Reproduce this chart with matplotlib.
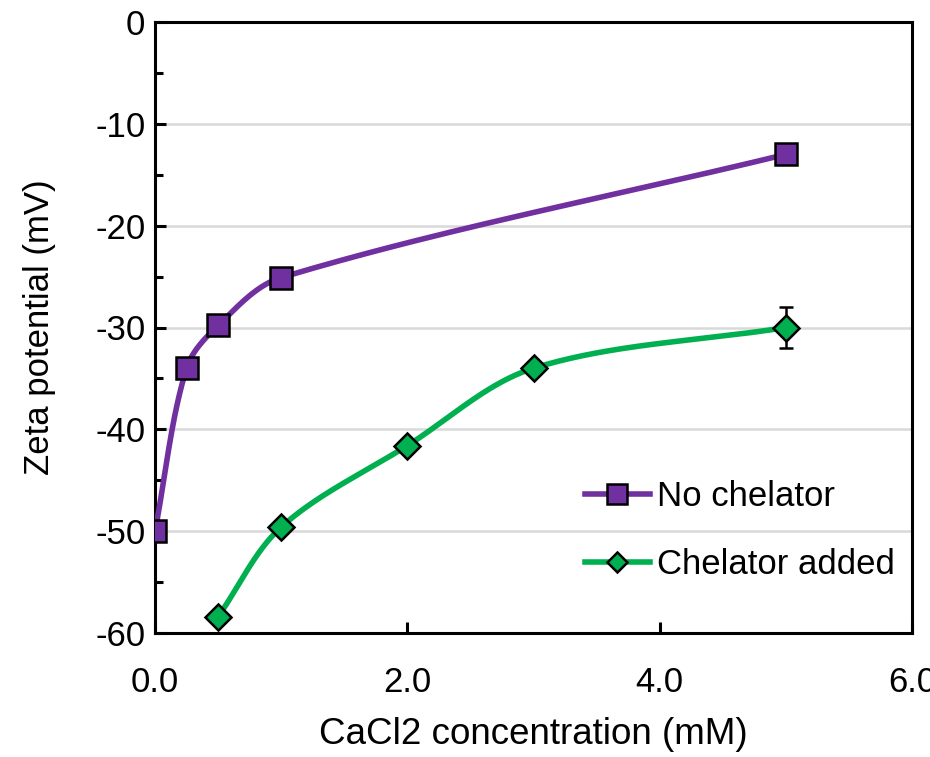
import numpy as np
import matplotlib
matplotlib.use("Agg")
import matplotlib.pyplot as plt
from matplotlib.ticker import MultipleLocator, FormatStrFormatter

plt.rcParams['font.family'] = ['Liberation Sans', 'DejaVu Sans']

# Data
x_no = [0.0, 0.25, 0.5, 1.0, 5.0]
y_no = [-50.0, -34.0, -29.8, -25.1, -13.0]
x_ch = [0.5, 1.0, 2.0, 3.0, 5.0]
y_ch = [-58.4, -49.6, -41.6, -34.0, -30.0]
err_ch = [0.0, 0.0, 0.0, 0.0, 2.0]

col_no = '#7030A0'
col_ch = '#00B050'

XMIN, XMAX, YMIN, YMAX = 0, 6, -60, 0
AX_W_PX, AX_H_PX = 757.0, 611.0


def smooth(xs, ys, n=60):
    """Excel-like smoothed line: cubic Bezier with chord-weighted tangents
    computed in display (pixel-like) space."""
    sx = AX_W_PX / (XMAX - XMIN)
    sy = AX_H_PX / (YMAX - YMIN)
    P = np.column_stack([np.asarray(xs, float) * sx, np.asarray(ys, float) * sy])
    m = len(P)
    d = np.hypot(*np.diff(P, axis=0).T)
    out = []
    for i in range(m - 1):
        p1, p2 = P[i], P[i + 1]
        if i > 0:
            T1 = P[i + 1] - P[i - 1]
            c1 = p1 + T1 * d[i] / (d[i - 1] + d[i]) / 3.0
        else:
            c1 = p1 + (p2 - p1) / 3.0
        if i + 2 < m:
            T2 = P[i + 2] - P[i]
            c2 = p2 - T2 * d[i] / (d[i] + d[i + 1]) / 3.0
        else:
            c2 = p2 - (p2 - p1) / 3.0
        t = np.linspace(0, 1, n)[:, None]
        seg = ((1 - t) ** 3) * p1 + 3 * ((1 - t) ** 2) * t * c1 + 3 * (1 - t) * t ** 2 * c2 + t ** 3 * p2
        out.append(seg if i == 0 else seg[1:])
    S = np.vstack(out)
    return S[:, 0] / sx, S[:, 1] / sy


fig = plt.figure(figsize=(9.3, 7.57), dpi=100)
ax = fig.add_axes([155 / 930, 1 - 633 / 757, (912 - 155) / 930, (633 - 22) / 757])

LW = 4.0
sx_, sy_ = smooth(x_no, y_no)
ax.plot(sx_, sy_, color=col_no, lw=LW, solid_capstyle='round', zorder=3)
ax.plot(x_no, y_no, ls='none', marker='s', ms=16, mfc=col_no, mec='black', mew=1.8, zorder=4)

sx_, sy_ = smooth(x_ch, y_ch)
ax.plot(sx_, sy_, color=col_ch, lw=LW, solid_capstyle='round', zorder=3)
ax.errorbar(x_ch, y_ch, yerr=err_ch, ls='none', ecolor='black', elinewidth=1.8, capsize=4.7,
            capthick=1.8, zorder=3.5)
ax.plot(x_ch, y_ch, ls='none', marker='D', ms=13, mfc=col_ch, mec='black', mew=1.8, zorder=4)

# legend proxies
h1, = ax.plot([], [], color=col_no, lw=LW, marker='s', ms=14, mfc=col_no, mec='black', mew=1.8)
h2, = ax.plot([], [], color=col_ch, lw=LW, marker='D', ms=10.5, mfc=col_ch, mec='black', mew=1.8)
ax.legend([h1, h2], ['No chelator', 'Chelator added'], loc='upper left',
          bbox_to_anchor=((585 - 155) / AX_W_PX, (633 - 480.5) / AX_H_PX),
          frameon=False, fontsize=25, handlelength=1.87, handletextpad=0.2, labelspacing=0.99,
          borderaxespad=0, borderpad=0)

ax.set_xlim(XMIN, XMAX)
ax.set_ylim(YMIN, YMAX)
ax.xaxis.set_major_locator(MultipleLocator(2))
ax.xaxis.set_major_formatter(FormatStrFormatter('%.1f'))
ax.yaxis.set_major_locator(MultipleLocator(10))
ax.yaxis.set_minor_locator(MultipleLocator(5))
ax.yaxis.set_major_formatter(FormatStrFormatter('%d'))

ax.grid(axis='y', which='major', color='#D9D9D9', lw=1.8, zorder=0)
ax.set_axisbelow(True)

for s in ax.spines.values():
    s.set_linewidth(2.2)
    s.set_color('black')

ax.tick_params(axis='both', which='major', direction='in', length=8, width=2.2, labelsize=25,
               colors='black')
ax.tick_params(axis='y', which='major', pad=7)
ax.tick_params(axis='y', which='minor', direction='in', length=6, width=2.2)
ax.tick_params(axis='x', which='minor', bottom=False)
ax.tick_params(axis='x', which='major', pad=24)

ax.set_xlabel('CaCl2 concentration (mM)', fontsize=26.5, labelpad=13)
ax.set_ylabel('Zeta potential (mV)', fontsize=25, labelpad=28)

fig.savefig('out.png', dpi=100)
